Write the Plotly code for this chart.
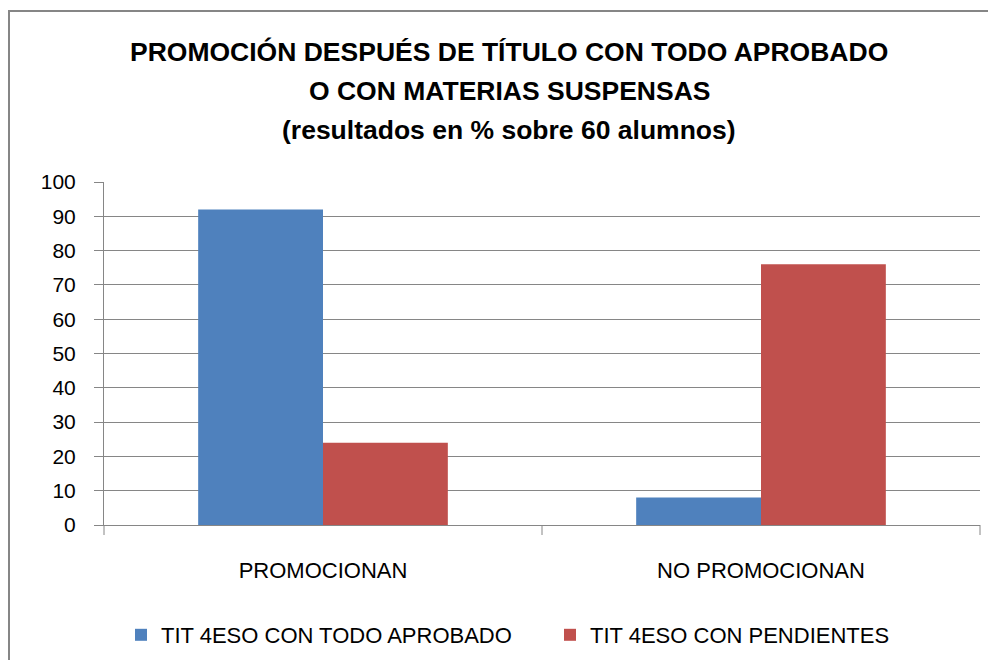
import plotly.graph_objects as go

categories = ["PROMOCIONAN", "NO PROMOCIONAN"]
series_names = ["TIT 4ESO CON TODO APROBADO", "TIT 4ESO CON PENDIENTES"]
todo_aprobado = [92, 8]
pendientes = [24, 76]
y_ticks = [0, 10, 20, 30, 40, 50, 60, 70, 80, 90, 100]
title_lines = [
    "PROMOCIÓN DESPUÉS DE TÍTULO CON TODO APROBADO",
    "O CON MATERIAS SUSPENSAS",
    "(resultados en % sobre 60 alumnos)",
]

OFF = 8  # page body margin
W, H = 980, 652
L, R, T, B = 96, 8, 174, 135
pw, ph = W - L - R, H - T - B

font_fam = "Liberation Sans, Arial, sans-serif"
GRID = "#868686"


def px(x):
    return (x - OFF - L) / pw


def py(y):
    return (H - B - (y - OFF)) / ph


fig = go.Figure()
fig.add_trace(go.Bar(x=categories, y=todo_aprobado, name=series_names[0],
                     marker=dict(color="#4F81BD", line=dict(width=0))))
fig.add_trace(go.Bar(x=categories, y=pendientes, name=series_names[1],
                     marker=dict(color="#C0504D", line=dict(width=0))))

annotations = []
for line, yc in zip(title_lines, [52, 91, 130]):
    annotations.append(dict(
        text="<b>" + line + "</b>", xref="paper", yref="paper",
        x=px(509), y=py(yc), xanchor="center", yanchor="middle",
        showarrow=False, font=dict(size=26.5, family=font_fam, color="black"),
    ))

bx0, by0 = px(9), py(11)
border_path = f"M {bx0},{py(700)} L {bx0},{by0} L {px(1020)},{by0}"

fig.update_layout(
    width=W, height=H,
    margin=dict(l=L, r=R, t=T, b=B, autoexpand=False),
    paper_bgcolor="white", plot_bgcolor="white",
    barmode="group", bargap=0.43, bargroupgap=0,
    font=dict(family=font_fam, size=22, color="black"),
    annotations=annotations,
    xaxis=dict(
        showline=True, linecolor=GRID, linewidth=1,
        ticks="outside", ticklen=0, showgrid=False,
        tickfont=dict(size=22), ticklabelstandoff=26,
    ),
    yaxis=dict(
        range=[0, 100], tickvals=y_ticks, showgrid=True, gridcolor=GRID,
        gridwidth=1, showline=True, linecolor=GRID, linewidth=1,
        ticks="outside", ticklen=9, tickcolor=GRID,
        tickfont=dict(size=21), zeroline=False, ticklabelstandoff=14,
    ),
    legend=dict(orientation="h", x=px(121), xanchor="left", y=py(635), yanchor="middle",
                font=dict(size=22), itemwidth=30, traceorder="normal",
                entrywidthmode="pixels", entrywidth=384),
    showlegend=True,
    shapes=[
        dict(type="path", xref="paper", yref="paper", path=border_path,
             line=dict(color=GRID, width=2), layer="below"),
    ] + [
        dict(type="line", xref="paper", yref="paper", x0=xv, x1=xv,
             y0=0, y1=-10 / ph, line=dict(color=GRID, width=1))
        for xv in [0, 0.5, 1]
    ],
)

fig.write_html("out.html")
